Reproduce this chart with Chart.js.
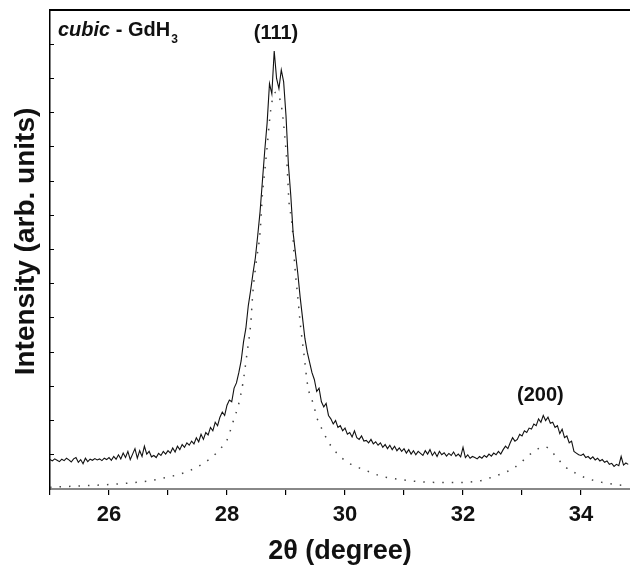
<!DOCTYPE html>
<html>
<head>
<meta charset="utf-8">
<script src="https://cdn.jsdelivr.net/npm/chart.js@4.4.1/dist/chart.umd.min.js"></script>
<style>
  body { margin: 0; background: #fff; }
  #wrap { width: 630px; height: 566px; }
</style>
</head>
<body>
<div id="wrap"><canvas id="xrdChart" width="630" height="566"></canvas></div>
<script>
// measured pattern, sampled every 0.04 deg starting at 25.00
const angleStart = 25.0;
const angleStep = 0.04;
const measured = [
  0.86, 0.82, 0.88, 0.84, 0.80, 0.87, 0.83, 0.90, 0.85, 0.79,
  0.88, 0.92, 0.78, 0.86, 0.74, 0.90, 0.80, 0.87, 0.84, 0.89,
  0.85, 0.88, 0.83, 0.90, 0.86, 0.92, 0.84, 0.95, 0.87, 1.00,
  0.88, 1.05, 0.92, 1.10, 0.86, 1.02, 1.18, 0.90, 1.12, 0.95,
  1.25, 1.02, 1.10, 0.94, 0.98, 0.92, 1.04, 0.98, 1.10, 1.02,
  1.12, 1.05, 1.20, 1.08, 1.25, 1.15, 1.30, 1.22, 1.35, 1.28,
  1.40, 1.32, 1.50, 1.38, 1.60, 1.45, 1.65, 1.58, 1.80, 1.70,
  1.95, 1.85, 2.10, 2.25, 2.15, 2.45, 2.60, 2.55, 2.95, 3.10,
  3.40, 3.75, 4.30, 4.70, 5.35, 5.80, 6.30, 6.75, 7.40, 8.10,
  9.00, 9.90, 10.70, 11.85, 11.55, 12.80, 12.00, 11.70, 12.25, 11.90,
  10.90, 9.50, 8.60, 7.50, 6.90, 6.30, 5.60, 5.00, 4.40, 4.00,
  3.70, 3.40, 3.20, 2.85, 2.95, 2.55, 2.40, 2.50, 2.15, 2.05,
  1.90, 2.00, 1.80, 1.85, 1.70, 1.78, 1.60, 1.65, 1.52, 1.70,
  1.50, 1.45, 1.55, 1.40, 1.42, 1.35, 1.45, 1.32, 1.38, 1.28,
  1.35, 1.22, 1.30, 1.18, 1.28, 1.15, 1.25, 1.12, 1.20, 1.10,
  1.18, 1.05, 1.15, 1.02, 1.12, 1.00, 1.10, 1.04, 0.98, 1.12,
  1.02, 1.15, 0.98, 1.08, 0.95, 1.10, 1.00, 1.06, 0.96, 1.04,
  0.98, 1.08, 0.96, 1.02, 0.94, 1.22, 0.92, 1.00, 0.90, 0.95,
  0.92, 0.88, 0.95, 0.90, 0.98, 0.93, 1.02, 0.96, 1.05, 1.00,
  1.10, 1.02, 1.15, 1.25, 1.18, 1.35, 1.50, 1.40, 1.45, 1.60,
  1.55, 1.70, 1.65, 1.78, 1.75, 1.90, 1.85, 2.05, 1.95, 2.15,
  2.00, 2.10, 1.92, 1.95, 1.80, 1.85, 1.62, 1.75, 1.50, 1.55,
  1.35, 1.40, 1.10, 1.05, 1.00, 0.98, 1.02, 0.92, 0.95, 0.88,
  0.94, 0.85, 0.90, 0.82, 0.86, 0.78, 0.82, 0.72, 0.75, 0.66,
  0.72, 0.68, 0.95, 0.70, 0.76, 0.72
];

// calculated profile (dotted)
const calcAngle = [
  25.0, 25.5, 26.0, 26.5, 26.75, 27.0, 27.25, 27.5, 27.73, 27.9,
  28.0, 28.1, 28.2, 28.27, 28.34, 28.4, 28.44, 28.5, 28.56, 28.6,
  28.64, 28.68, 28.72, 28.76, 28.83, 28.9, 28.93, 28.98, 29.02, 29.05,
  29.1, 29.15, 29.2, 29.25, 29.3, 29.37, 29.46, 29.54, 29.62, 29.7,
  29.8, 29.95, 30.12, 30.3, 30.46, 30.6, 30.76, 30.93, 31.1, 31.4,
  31.7, 32.0, 32.2, 32.34, 32.5, 32.66, 32.83, 32.97, 33.14, 33.3,
  33.37, 33.44, 33.59, 33.73, 33.9, 34.07, 34.24, 34.4, 34.58, 34.8
];
const calcIntensity = [
  0.05, 0.09, 0.13, 0.20, 0.26, 0.35, 0.46, 0.65, 0.91, 1.20,
  1.43, 1.95, 2.50, 3.10, 3.98, 4.80, 5.78, 6.70, 7.49, 8.60,
  9.30, 10.00, 10.75, 11.30, 11.60, 11.37, 11.10, 10.30, 9.40, 8.40,
  7.80, 6.50, 5.60, 4.70, 4.00, 3.00, 2.50, 2.00, 1.72, 1.43,
  1.17, 0.90, 0.70, 0.58, 0.47, 0.38, 0.32, 0.28, 0.24, 0.20,
  0.19, 0.19, 0.22, 0.26, 0.35, 0.45, 0.58, 0.76, 1.02, 1.20,
  1.24, 1.20, 0.92, 0.65, 0.47, 0.33, 0.24, 0.18, 0.13, 0.09
];

const peakNames = ["(111)", "(200)"];
const peakAngles = [28.83, 33.31];
const peakLevels = [13.3, 2.72];

const measuredPoints = measured.map((v, i) => ({ x: angleStart + i * angleStep, y: v }));
const calcPoints = calcAngle.map((a, i) => ({ x: a, y: calcIntensity[i] }));

const FONT = '"Liberation Sans", Arial, Helvetica, sans-serif';

const decorPlugin = {
  id: 'decor',
  afterDraw(chart) {
    const { ctx, chartArea } = chart;
    const xs = chart.scales.x, ys = chart.scales.y;
    ctx.save();
    // top frame line
    ctx.strokeStyle = '#000';
    ctx.lineWidth = 2;
    ctx.beginPath();
    ctx.moveTo(chartArea.left, chartArea.top);
    ctx.lineTo(chartArea.right, chartArea.top);
    ctx.stroke();

    ctx.fillStyle = '#111';
    ctx.textAlign = 'center';
    ctx.textBaseline = 'middle';
    ctx.font = 'bold 20px ' + FONT;
    peakNames.forEach((name, i) => {
      ctx.fillText(name, xs.getPixelForValue(peakAngles[i]), ys.getPixelForValue(peakLevels[i]));
    });

    // phase label
    let px = chartArea.left + 8;
    const py = chartArea.top + 20;
    ctx.textAlign = 'left';
    ctx.font = 'italic bold 20px ' + FONT;
    ctx.fillText('cubic', px, py);
    px += ctx.measureText('cubic').width;
    ctx.font = 'bold 20px ' + FONT;
    ctx.fillText(' - GdH', px, py);
    px += ctx.measureText(' - GdH').width + 1;
    ctx.font = 'bold 12px ' + FONT;
    ctx.fillText('3', px, py + 10);

    // y axis title, sits a little above the plot centre
    ctx.save();
    ctx.translate(26, (chartArea.top + chartArea.bottom) / 2 - 8);
    ctx.rotate(-Math.PI / 2);
    ctx.textAlign = 'center';
    ctx.font = 'bold 28px ' + FONT;
    ctx.fillText('Intensity (arb. units)', 0, 0);
    ctx.restore();
    ctx.restore();
  }
};

new Chart(document.getElementById('xrdChart'), {
  type: 'line',
  data: {
    datasets: [{
      data: measuredPoints,
      borderColor: '#111',
      borderWidth: 1.1,
      pointRadius: 0,
      tension: 0,
      fill: false
    }, {
      data: calcPoints,
      borderColor: '#444',
      borderWidth: 1.5,
      borderDash: [1.5, 8],
      pointRadius: 0,
      cubicInterpolationMode: 'monotone',
      fill: false
    }]
  },
  options: {
    responsive: false,
    animation: false,
    layout: { padding: { top: 10, right: 0, left: 0, bottom: 0 } },
    plugins: { legend: { display: false }, tooltip: { enabled: false } },
    scales: {
      x: {
        type: 'linear',
        min: 25,
        max: 34.83,
        border: { color: '#888', width: 2 },
        grid: { drawOnChartArea: false, tickColor: '#000', tickLength: 6, lineWidth: 1.2 },
        ticks: {
          stepSize: 1,
          includeBounds: false,
          autoSkip: false,
          maxRotation: 0,
          padding: 7,
          color: '#111',
          font: { family: FONT, size: 22, weight: 'bold' },
          callback: (v) => (v % 2 === 0 ? v : '')
        },
        title: {
          display: true,
          text: '2θ (degree)',
          color: '#111',
          font: { family: FONT, size: 27, weight: 'bold', lineHeight: 1 },
          padding: { top: 0, bottom: 1 }
        },
        afterFit: (scale) => { scale.height = 77; }
      },
      y: {
        min: 0,
        max: 14,
        border: { color: '#000', width: 1.5 },
        grid: { drawOnChartArea: false, tickColor: '#000', tickLength: -4, lineWidth: 1 },
        ticks: { stepSize: 1, display: false },
        afterFit: (scale) => { scale.width = 50; }
      }
    }
  },
  plugins: [decorPlugin]
});
</script>
</body>
</html>
